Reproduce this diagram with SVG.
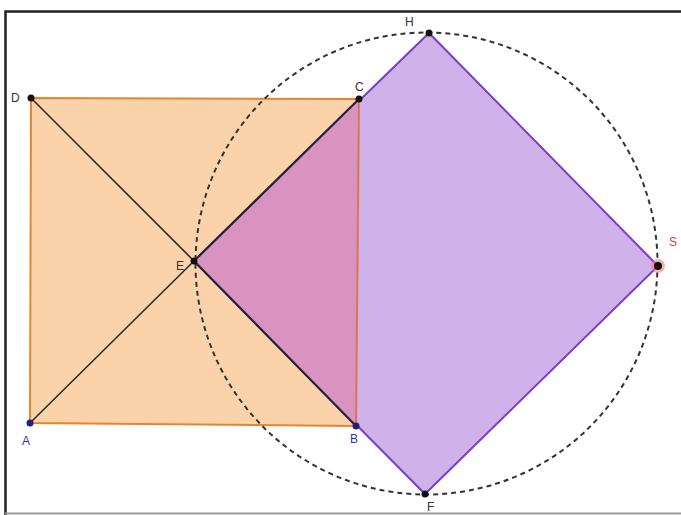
<svg xmlns="http://www.w3.org/2000/svg" width="681" height="515" viewBox="0 0 681 515">
<style>
.lbl{font-family:"Liberation Sans",Arial,sans-serif;font-size:12px;fill:#333}
.blue{fill:#3333aa}
.red{fill:#d94040}
.pt{fill:#111}
.bpt{fill:#22227a}
</style>
<rect x="0" y="0" width="681" height="515" fill="#ffffff"/>
<path d="M5.5 515 V11.5 H681" fill="none" stroke="#222" stroke-width="2.5"/>
<line x1="5" y1="513.5" x2="681" y2="513.5" stroke="#999" stroke-width="2"/>
<g id="squareABCD">
<polygon points="30,423 356,426 359,99 31,98" fill="#fbd3aa" stroke="#e8842e" stroke-width="2"/>
</g>
<g id="squareEHSF">
<polygon points="194,261 429,33 658,266 425,494" fill="#cfb2ea" stroke="#7a3fc4" stroke-width="2"/>
</g>
<g id="overlap">
<polygon points="194,261 359,99 356,426" fill="#d993c0"/>
<line x1="359" y1="99" x2="356" y2="426" stroke="#d9784a" stroke-width="2"/>
</g>
<g id="connectors" fill="none">
<line x1="31" y1="98" x2="194" y2="261" stroke="#2a2a2a" stroke-width="1.6"/>
<line x1="30" y1="423" x2="194" y2="261" stroke="#2a2a2a" stroke-width="1.6"/>
<line x1="194" y1="261" x2="356" y2="426" stroke="#2a1f3a" stroke-width="2.2"/>
<line x1="194" y1="261" x2="359" y2="99" stroke="#2a1f3a" stroke-width="2.2"/>
<circle cx="426.5" cy="263.5" r="231" stroke="#333" stroke-width="2" stroke-dasharray="5 4"/>
</g>
<g id="D"><circle cx="31" cy="98" r="3.5" class="pt"/><text x="11" y="102" class="lbl">D</text></g>
<g id="C"><circle cx="359" cy="99" r="3.5" class="pt"/><text x="355" y="91" class="lbl">C</text></g>
<g id="E"><circle cx="194" cy="261" r="3.5" class="pt"/><text x="176" y="270" class="lbl">E</text></g>
<g id="H"><circle cx="429" cy="33" r="3.5" class="pt"/><text x="405" y="26" class="lbl">H</text></g>
<g id="S"><circle cx="658" cy="266" r="7" fill="#f08080" opacity="0.6"/><circle cx="658" cy="266" r="4" class="pt"/><text x="669" y="246" class="lbl red">S</text></g>
<g id="A"><circle cx="30" cy="423" r="3.5" class="bpt"/><text x="22" y="445" class="lbl blue">A</text></g>
<g id="B"><circle cx="356" cy="426" r="3.5" class="bpt"/><text x="350" y="443" class="lbl blue">B</text></g>
<g id="F"><circle cx="425" cy="494" r="3.5" class="pt"/><text x="427" y="511" class="lbl">F</text></g>
</svg>
